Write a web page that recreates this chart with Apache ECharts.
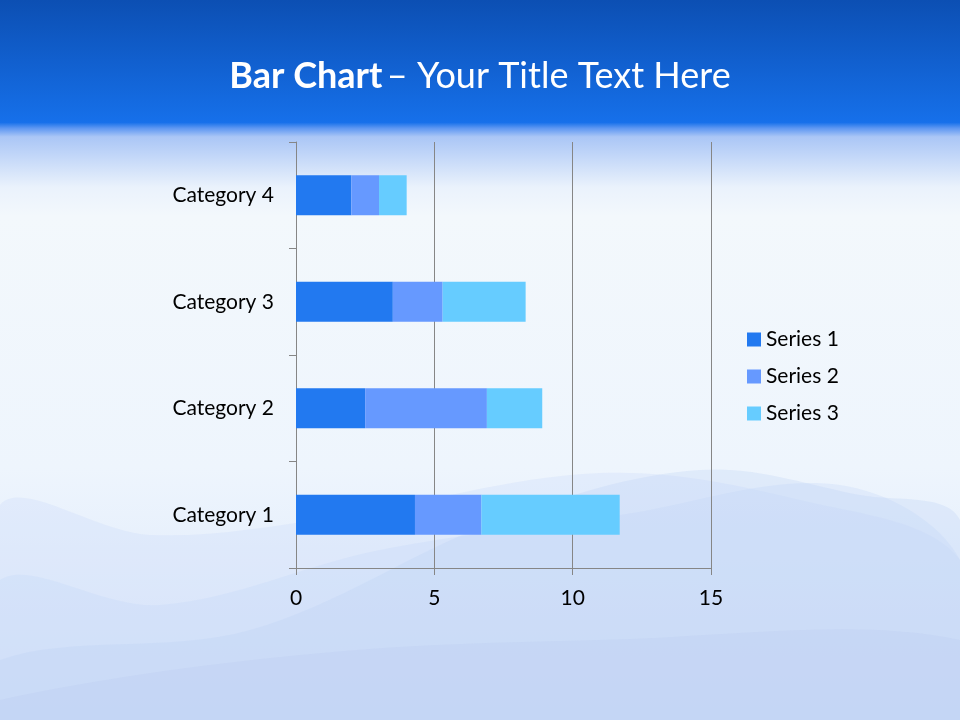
<!DOCTYPE html>
<html>
<head>
<meta charset="utf-8">
<script src="https://cdn.jsdelivr.net/npm/echarts@6/dist/echarts.min.js"></script>
<style>html,body{margin:0;padding:0;}#c{width:960px;height:720px;}</style>
</head>
<body>
<div id="c"></div>
<script>
const categories = ['Category 1', 'Category 2', 'Category 3', 'Category 4'];
const seriesNames = ['Series 1', 'Series 2', 'Series 3'];
const series1 = [4.3, 2.5, 3.5, 2.0];
const series2 = [2.4, 4.4, 1.8, 1.0];
const series3 = [5.0, 2.0, 3.0, 1.0];
const colors = ['#2279f0', '#6699ff', '#66ccff'];

const font = 'Lato';
const chart = echarts.init(document.getElementById('c'), null, {renderer: 'canvas'});

const wave = (pts, fill, z) => ({
  type: 'polygon', z: z, silent: true,
  shape: {points: pts, smooth: 0.35},
  style: {fill: fill}
});

const bgGraphics = [
  {type: 'rect', z: -100, silent: true, shape: {x: 0, y: 0, width: 960, height: 720},
   style: {fill: new echarts.graphic.LinearGradient(0, 0, 0, 1, [
     {offset: 0, color: '#0c4fb3'},
     {offset: 0.17, color: '#1670ea'},
     {offset: 0.178, color: '#5d97f2'},
     {offset: 0.19, color: '#aac6f6'},
     {offset: 0.26, color: '#eaf2fc'},
     {offset: 0.3, color: '#f3f8fc'},
     {offset: 0.65, color: '#eef5fd'},
     {offset: 1, color: '#d8e5fa'}
   ])}},
  wave([[0,505],[150,535],[330,518],[600,473],[800,500],[960,560],[960,720],[0,720]], 'rgba(205,222,248,0.35)', -90),
  wave([[0,580],[160,605],[380,550],[620,515],[840,485],[960,560],[960,720],[0,720]], 'rgba(195,215,248,0.3)', -89),
  wave([[0,660],[250,630],[500,520],[700,470],[860,495],[960,520],[960,720],[0,720]], 'rgba(185,208,246,0.28)', -88),
  wave([[0,700],[300,655],[600,640],[960,640],[960,720],[0,720]], 'rgba(185,200,240,0.25)', -87)
];

const mkSeries = (name, data, color) => ({
  name: name, type: 'bar', stack: 'total', data: data, barWidth: 40,
  itemStyle: {color: color}, emphasis: {disabled: true}
});

chart.setOption({
  animation: false,
  textStyle: {fontFamily: font},
  graphic: bgGraphics,
  title: {
    text: '{b|Bar Chart} {r|– Your Title Text Here}',
    left: 'center', top: 53,
    textStyle: {rich: {
      b: {fontFamily: font, fontSize: 36, fontWeight: 'bold', color: '#ffffff'},
      r: {fontFamily: font, fontSize: 36, fontWeight: 'normal', color: '#ffffff'}
    }}
  },
  legend: {
    orient: 'vertical', left: 747, top: 329, itemGap: 16, padding: 0,
    itemWidth: 14, itemHeight: 14, icon: 'rect',
    textStyle: {fontFamily: font, fontSize: 21, color: '#000000', padding: [0, 0, 0, 0]},
    data: seriesNames
  },
  grid: {left: 296, right: 249, top: 142, bottom: 152, containLabel: false},
  xAxis: {
    type: 'value', min: 0, max: 15, interval: 5,
    axisLine: {show: true, lineStyle: {color: '#868686', width: 1}},
    axisTick: {show: true, length: 7, lineStyle: {color: '#868686'}},
    axisLabel: {fontFamily: font, fontSize: 21, color: '#000000', margin: 20},
    splitLine: {show: true, lineStyle: {color: '#868686', width: 1}}
  },
  yAxis: {
    type: 'category', data: categories,
    axisLine: {show: true, lineStyle: {color: '#868686', width: 1}},
    axisTick: {show: true, length: 7, lineStyle: {color: '#868686'}},
    axisLabel: {fontFamily: font, fontSize: 21, color: '#000000', margin: 22}
  },
  series: [
    mkSeries(seriesNames[0], series1, colors[0]),
    mkSeries(seriesNames[1], series2, colors[1]),
    mkSeries(seriesNames[2], series3, colors[2])
  ]
});
</script>
</body>
</html>
